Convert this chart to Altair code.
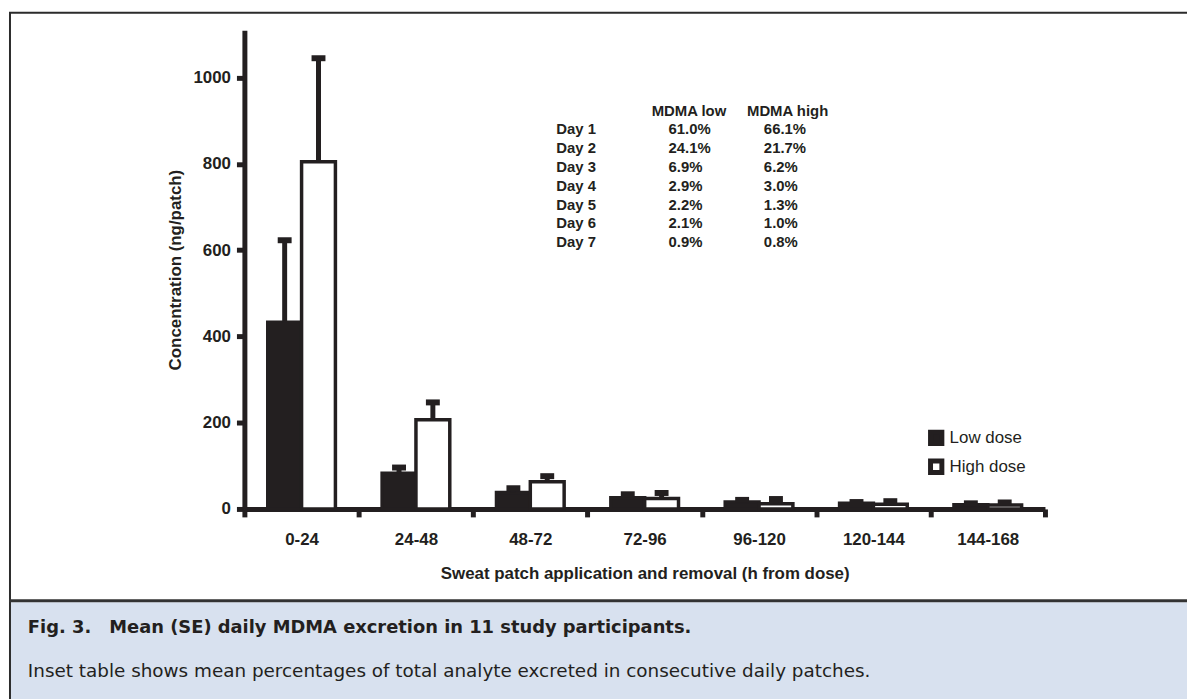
import altair as alt
import pandas as pd

# ---- data ----
intervals = ["0-24", "24-48", "48-72", "72-96", "96-120", "120-144", "144-168"]
doses = ["Low dose", "High dose"]
low_mean = [433, 83, 38, 26, 16, 13, 10]
low_se = [190, 13, 10, 8, 5, 3, 3]
high_mean = [805, 207, 63, 24, 12, 11, 9]
high_se = [240, 40, 13, 13, 11, 7, 6]

days = ["Day 1", "Day 2", "Day 3", "Day 4", "Day 5", "Day 6", "Day 7"]
pct_low = ["61.0%", "24.1%", "6.9%", "2.9%", "2.2%", "2.1%", "0.9%"]
pct_high = ["66.1%", "21.7%", "6.2%", "3.0%", "1.3%", "1.0%", "0.8%"]
table_headers = ["MDMA low", "MDMA high"]

x_title = "Sweat patch application and removal (h from dose)"
y_title = "Concentration (ng/patch)"
fig_label = "Fig. 3."
caption1 = "Mean (SE) daily MDMA excretion in 11 study participants."
caption2 = "Inset table shows mean percentages of total analyte excreted in consecutive daily patches."

INK = "#231f20"
FONT = "Liberation Sans"
CAPFONT = "DejaVu Sans"

rows = []
for i, iv in enumerate(intervals):
    rows.append({"interval": iv, "dose": doses[0], "mean": low_mean[i], "top": low_mean[i] + low_se[i]})
    rows.append({"interval": iv, "dose": doses[1], "mean": high_mean[i], "top": high_mean[i] + high_se[i]})
df = pd.DataFrame(rows)
one = pd.DataFrame({"a": [0]})

W, H = 806, 482

xenc = alt.X("interval:N", sort=intervals,
             scale=alt.Scale(paddingInner=0, paddingOuter=0),
             axis=alt.Axis(title=x_title, tickBand="extent", labelAngle=0,
                           labelFont=FONT, labelFontSize=17, labelFontWeight="bold",
                           labelColor=INK, labelPadding=15,
                           domainColor=INK, domainWidth=5, tickColor=INK,
                           tickWidth=5, tickSize=8,
                           titleFont=FONT, titleFontSize=17, titleFontWeight="bold",
                           titleColor=INK, titlePadding=18))
xoff = alt.XOffset("dose:N", sort=doses,
                   scale=alt.Scale(domain=doses, paddingInner=0, paddingOuter=0.69))
yscale = alt.Scale(domain=[0, 1110], nice=False)

base = alt.Chart(df)
bars = base.mark_bar(stroke=INK, strokeWidth=3.5).encode(
    x=xenc, xOffset=xoff,
    y=alt.Y("mean:Q", scale=yscale,
            axis=alt.Axis(title=y_title, values=[0, 200, 400, 600, 800, 1000], grid=False,
                          format="d",
                          labelFont=FONT, labelFontSize=17, labelFontWeight="bold",
                          labelColor=INK, labelPadding=6,
                          domainColor=INK, domainWidth=5, tickColor=INK,
                          tickWidth=5, tickSize=8,
                          titleFont=FONT, titleFontSize=17, titleFontWeight="bold",
                          titleColor=INK, titlePadding=9)),
    fill=alt.Fill("dose:N", sort=doses,
                  scale=alt.Scale(domain=doses, range=[INK, "white"]),
                  legend=alt.Legend(title=None, orient="none", legendX=688, legendY=402,
                                    symbolType="square", symbolSize=130,
                                    symbolStrokeColor=INK, symbolStrokeWidth=5,
                                    labelFont=FONT, labelFontSize=17, labelColor=INK,
                                    labelOffset=5, rowPadding=-4, padding=0)),
)
errs = base.mark_rule(color=INK, strokeWidth=5, opacity=1).encode(
    x=alt.X("interval:N", sort=intervals), xOffset=xoff,
    y=alt.Y("mean:Q", scale=yscale), y2="top:Q")
caps = base.mark_tick(color=INK, thickness=6, size=14, opacity=1).encode(
    x=alt.X("interval:N", sort=intervals), xOffset=xoff,
    y=alt.Y("top:Q", scale=yscale))

# ---- inset table (multi-line text columns) ----
tstyle = dict(align="left", baseline="alphabetic", font=FONT, fontSize=15,
              fontWeight="bold", color=INK, lineHeight=18.9)
t_days = alt.Chart(one).mark_text(**tstyle).encode(
    x=alt.value(314), y=alt.value(105), text=alt.value(days))
t_low = alt.Chart(one).mark_text(**tstyle).encode(
    x=alt.value(427), y=alt.value(105), text=alt.value(pct_low))
t_high = alt.Chart(one).mark_text(**tstyle).encode(
    x=alt.value(523), y=alt.value(105), text=alt.value(pct_high))
h_low = alt.Chart(one).mark_text(**tstyle).encode(
    x=alt.value(410), y=alt.value(86.5), text=alt.value(table_headers[0]))
h_high = alt.Chart(one).mark_text(**tstyle).encode(
    x=alt.value(506), y=alt.value(86.5), text=alt.value(table_headers[1]))

# ---- figure frame and caption panel ----
panel = alt.Chart(one).mark_rect(fill="#d8e1ef").encode(
    x=alt.value(-237), x2=alt.value(960), y=alt.value(576), y2=alt.value(680))
frame = alt.Chart(one).mark_rect(fill=None, stroke="#2b2b2b", strokeWidth=2).encode(
    x=alt.value(-236), x2=alt.value(970), y=alt.value(-17.5), y2=alt.value(700))
sep = alt.Chart(one).mark_rule(color="#333333", strokeWidth=3).encode(
    x=alt.value(-237), x2=alt.value(960), y=alt.value(574.5))
cap0 = alt.Chart(one).mark_text(align="left", baseline="alphabetic", font=CAPFONT,
                                 fontSize=18, fontWeight="bold", color=INK).encode(
    x=alt.value(-218), y=alt.value(607), text=alt.value(fig_label))
cap1 = alt.Chart(one).mark_text(align="left", baseline="alphabetic", font=CAPFONT,
                                 fontSize=18, fontWeight="bold", color=INK).encode(
    x=alt.value(-136), y=alt.value(607), text=alt.value(caption1))
cap2 = alt.Chart(one).mark_text(align="left", baseline="alphabetic", font=CAPFONT,
                                 fontSize=18.5, color=INK).encode(
    x=alt.value(-218), y=alt.value(651), text=alt.value(caption2))

chart = alt.layer(
    panel, frame, sep, cap0, cap1, cap2,
    bars, errs, caps,
    t_days, t_low, t_high, h_low, h_high,
).properties(
    width=W, height=H,
    autosize=alt.AutoSizeParams(type="none"),
    padding={"left": 238, "top": 20, "right": 143, "bottom": 189},
    background="white",
).configure_view(stroke=None)

chart.save("out.html", embed_options={"renderer": "svg", "actions": False})
